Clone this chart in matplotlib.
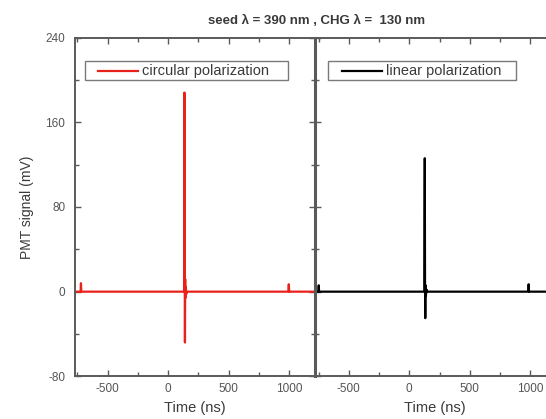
import numpy as np
import matplotlib.pyplot as plt
from matplotlib.ticker import MultipleLocator
from matplotlib.patches import Rectangle

# PMT traces, sparse samples (ns, mV)
circ_t = [-770, -724, -721, -718, 120, 132, 135, 137, 139, 141, 143, 146, 150, 158,
          994, 998, 1001, 1004, 1215]
circ_v = [0, 0, 8, 0, 0, 0, 188, 40, -48, 12, -6, 4, -2, 0,
          0, 7, 0, 0, 0]

lin_t = [-780, -752, -749, -746, 110, 124, 128, 130, 132, 134, 137, 142, 150,
         984, 987, 990, 993, 1215]
lin_v = [0, 0, 6, 0, 0, 0, 126, 10, -25, 6, -4, 2, 0,
         0, 7, 0, 0, 0]

series = [("circular polarization", circ_t, circ_v, "#e8211b", (-770, 1215)),
          ("linear polarization", lin_t, lin_v, "black", (-780, 1205))]

plt.rcParams['font.family'] = ['Liberation Sans', 'DejaVu Sans']
plt.rcParams['axes.unicode_minus'] = False
frame = "#5a5a5a"
txtcol = "#3a3a3a"

fig = plt.figure(figsize=(5.46, 4.19), dpi=100)
positions = [[0.1374, 0.1017, 0.4396, 0.8088],
             [0.5769, 0.1017, 0.4396, 0.8088]]
# legend box: x0, x1, line x0, line x1, text x (axes fraction)
legbox = [(0.042, 0.8875, 0.096, 0.2625, 0.279),
          (0.054, 0.8375, 0.1125, 0.279, 0.296)]

for i, (name, t, v, col, xl) in enumerate(series):
    ax = fig.add_axes(positions[i])
    ax.plot(t, v, color=col, lw=1.6)
    ax.set_xlim(*xl)
    ax.set_ylim(-80, 240)
    ax.xaxis.set_major_locator(MultipleLocator(500))
    ax.xaxis.set_minor_locator(MultipleLocator(250))
    ax.yaxis.set_major_locator(MultipleLocator(80))
    ax.yaxis.set_minor_locator(MultipleLocator(40))
    ax.tick_params(which='both', direction='in', top=True, right=True,
                   color=frame, width=1.0, labelsize=8.5, labelcolor="#555555")
    ax.tick_params(which='major', length=4)
    ax.tick_params(which='minor', length=3)
    ax.tick_params(axis='y', pad=7)
    ax.tick_params(axis='x', pad=5)
    for s in ax.spines.values():
        s.set_color(frame)
        s.set_linewidth(1.4)
    ax.spines['left'].set_linewidth(1.4 if i == 0 else 2.2)
    ax.set_xlabel("Time (ns)", fontsize=10.5, color=txtcol, labelpad=4)
    if i == 0:
        ax.set_ylabel("PMT signal (mV)", fontsize=10, color=txtcol, labelpad=8)
    else:
        ax.tick_params(axis='y', labelleft=False)

    # framed legend
    bx0, bx1, lx0, lx1, tx = legbox[i]
    ax.add_patch(Rectangle((bx0, 0.874), bx1 - bx0, 0.056, transform=ax.transAxes,
                           facecolor='white', edgecolor="#7a7a7a", lw=1.0, zorder=5))
    ax.plot([lx0, lx1], [0.902, 0.902], transform=ax.transAxes, color=col,
            lw=1.6, zorder=6)
    ax.text(tx, 0.902, name, transform=ax.transAxes, ha='left', va='center',
            fontsize=10.5, color=txtcol, zorder=6)

fig.text(0.58, 0.95, "seed \u03bb = 390 nm , CHG \u03bb =  130 nm", ha='center',
         va='center', fontsize=9.5, fontweight='bold', color=txtcol)

fig.savefig("out.png", dpi=100)
